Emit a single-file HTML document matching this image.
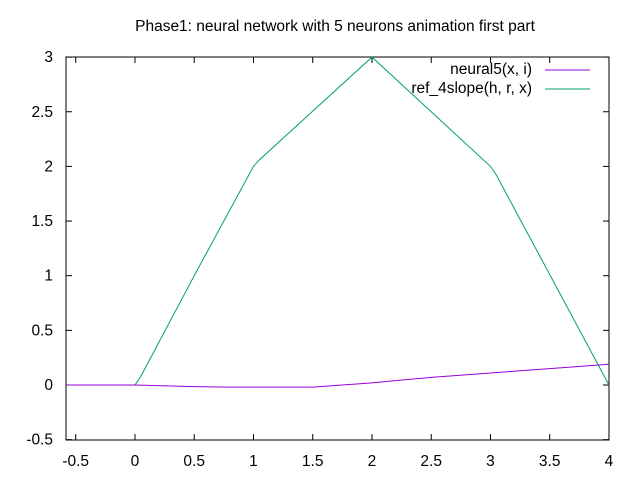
<!DOCTYPE html>
<html><head><meta charset="utf-8"><style>body{margin:0;background:#fff}svg{display:block;font-family:"Liberation Sans",sans-serif}</style></head>
<body>
<svg id="chart" width="640" height="480">
<text x="335" y="31" font-size="15.5" text-anchor="middle">Phase1: neural network with 5 neurons animation first part</text>
<rect x="66" y="57" width="543" height="383" fill="none" stroke="#000" stroke-width="1"/>
<g id="ticks"></g>
<g id="series"></g>
<text x="532" y="74" font-size="15.5" text-anchor="end">neural5(x, i)</text>
<line x1="545" y1="70" x2="590" y2="70" stroke="#9400d3"/>
<text x="532" y="93" font-size="15.5" text-anchor="end">ref_4slope(h, r, x)</text>
<line x1="545" y1="89" x2="590" y2="89" stroke="#009e73"/>
</svg>
<script>
const xTicks=[-0.5,0,0.5,1,1.5,2,2.5,3,3.5,4];
const xTickLabels=["-0.5","0","0.5","1","1.5","2","2.5","3","3.5","4"];
const yTicks=[-0.5,0,0.5,1,1.5,2,2.5,3];
const yTickLabels=["-0.5","0","0.5","1","1.5","2","2.5","3"];
const refX=[-0.58,0,0.05,0.5,1,1.05,2,3,3.05,4];
const refY=[0,0,0.08,1.0,2.0,2.06,3,2.0,1.92,0];
const neuralX=[-0.58,0,0.5,0.8,1.5,2,2.5,3,3.5,4];
const neuralY=[0,0,-0.015,-0.02,-0.02,0.02,0.07,0.11,0.15,0.19];
const X=v=>66+(v+0.582)*118.5, Y=v=>385-v*109.3;
const NS="http://www.w3.org/2000/svg";
const tg=document.getElementById('ticks'), sg=document.getElementById('series');
function mk(tag,at,p){const e=document.createElementNS(NS,tag);for(const k in at)e.setAttribute(k,at[k]);p.appendChild(e);return e;}
xTicks.forEach((t,i)=>{const x=X(t);
const a=mk('line',{x1:x,x2:x,y1:440,y2:434,stroke:'#000'},tg);


const b=mk('line',{x1:x,x2:x,y1:57,y2:63,stroke:'#000'},tg);


const l=mk('text',{x:x,y:466,'font-size':15.5,'text-anchor':'middle'},tg);l.textContent=xTickLabels[i];

});
yTicks.forEach((t,i)=>{const y=Y(t);
const a=mk('line',{x1:66,x2:72,y1:y,y2:y,stroke:'#000'},tg);


const b=mk('line',{x1:603,x2:609,y1:y,y2:y,stroke:'#000'},tg);


const l=mk('text',{x:53,y:y+5,'font-size':15.5,'text-anchor':'end'},tg);l.textContent=yTickLabels[i];

});
function line(xs,ys,c){return mk('polyline',{points:xs.map((x,i)=>X(x)+','+Y(ys[i])).join(' '),fill:'none',stroke:c,'stroke-width':1},sg);}
const r=line(refX,refY,'#009e73');


const n=line(neuralX,neuralY,'#9400d3');


</script>
</body></html>
